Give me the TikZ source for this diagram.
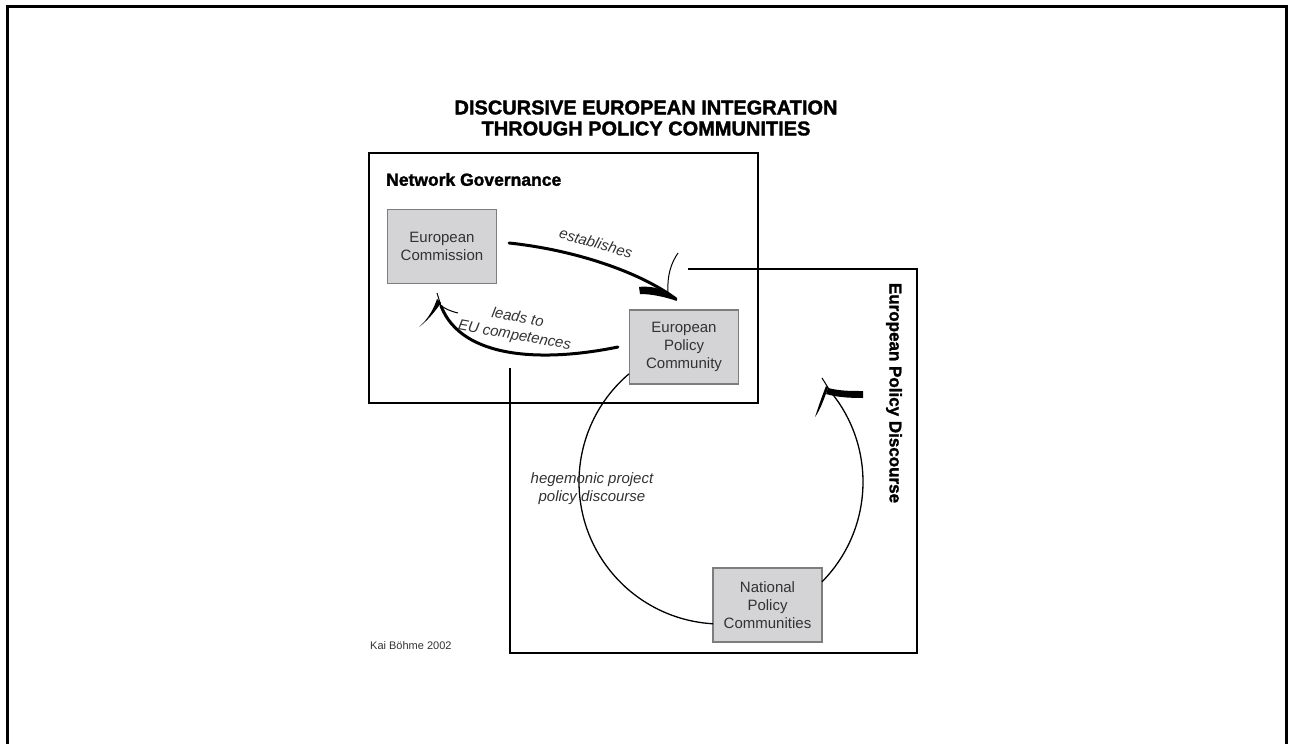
\documentclass[tikz,border=0pt]{standalone}
\usepackage{fontspec}
\setmainfont{Liberation Sans}
\newfontfamily\heavyfont{Liberation Sans Bold}[FakeBold=1.6]
\usetikzlibrary{calc}
\definecolor{boxfill}{RGB}{212,212,214}
\definecolor{boxline}{RGB}{125,125,125}
\definecolor{inktext}{RGB}{50,50,50}

\begin{document}
\begin{tikzpicture}[x=1pt,y=-1pt]

	\tikzset{pol box/.style={draw=boxline, fill=boxfill, line width=1.2pt, inner sep=0pt, minimum width=109pt, minimum height=74pt, align=center, text=inktext, font=\fontsize{15}{18}\selectfont}}
	\tikzset{frame line/.style={line width=2.6pt}}
	\tikzset{flow arrow/.style={line width=3pt, line cap=round}}
	\tikzset{cycle line/.style={line width=1.3pt}}
	\tikzset{verb label/.style={inner sep=0pt, text=inktext, font=\fontsize{15}{18}\selectfont\itshape, align=center}}

	\useasboundingbox (0,0) rectangle (1290,744);

	% outer frame, open at the bottom
	\draw[line width=3pt] (7,744) -- (7,6) -- (1286,6) -- (1286,744);

	% title
	\node[font=\fontsize{20}{21}\selectfont\heavyfont, align=center, inner sep=0pt] (title) at (646,118) {DISCURSIVE EUROPEAN INTEGRATION\\THROUGH POLICY COMMUNITIES};

	% network governance frame
	\draw[frame line] (369,153) rectangle (758,403);
	\node[anchor=west, inner sep=0pt, font=\fontsize{17.5}{20}\selectfont\heavyfont] (netgov) at (386,179.5) {Network Governance};

	% discourse frame, corner cut by the governance frame
	\draw[frame line] (688,269) -- (917,269) -- (917,653) -- (510,653) -- (510,368);
	\node[rotate=-90, inner sep=0pt, font=\fontsize{17}{20}\selectfont\heavyfont] (discourse) at (894,393) {European Policy Discourse};

	% actors
	\node[pol box] (ec) at (442,246.5) {European\\Commission};
	\node[pol box] (epc) at (684,347) {European\\Policy\\Community};
	\node[pol box] (npc) at (767.5,605) {National\\Policy\\Communities};

	% establishes
	\coordinate (estip) at (676,299);
	\draw[flow arrow] ([xshift=12pt,yshift=3.5pt]ec.east) .. controls (575,250) and (640,272) .. (estip);
	\fill (639,287) .. controls (655,285) and (668,291) .. (677,301) .. controls (665,297) and (652,294) .. (640,294) -- cycle;
	\draw[line width=1pt] (668,292) .. controls (667,276) and (671,263) .. (678,253);
	\node[verb label, rotate=-16] (estlabel) at (596,243) {establishes};

	% leads to EU competences
	\coordinate (lttip) at (437,293);
	\coordinate (ltend) at (441,306);
	\draw[flow arrow] ([xshift=-11pt]epc.west) .. controls (545,362) and (462,360) .. (ltend);
	\draw[line width=1pt] (ltend) -- (lttip);
	\fill (437,299) .. controls (433,311) and (427,320) .. (419,327) .. controls (426,322) and (434,313) .. (441,303) -- cycle;
	\draw[line width=1pt] (439,304) .. controls (445,309) and (450,311) .. (458,313);
	\node[verb label, rotate=-10] (ltlabel) at (516,327) {leads to\\EU competences};

	% policy cycle
	\coordinate (hub) at (721,482);
	\draw[cycle line] (hub) ++(229.6:142) arc[start angle=229.6, end angle=93.2, radius=142];
	\draw[cycle line] (hub) ++(44.7:142) arc[start angle=44.7, end angle=-39.5, radius=142] coordinate (cyend);
	\coordinate (cytip) at (822,378);
	\draw[line width=1pt] (cyend) -- (cytip);
	\fill (828,388) .. controls (840,391) and (850,391) .. (863,391) -- (863,398) .. controls (848,398) and (836,397) .. (826,394) -- cycle;
	\fill (826,386) .. controls (822,396) and (819,405) .. (815,417) .. controls (820,410) and (823,402) .. (828,388) -- cycle;
	\node[verb label] (hegemony) at (592,489) {hegemonic project\\policy discourse};

	% credit
	\node[anchor=west, inner sep=0pt, font=\fontsize{11}{13}\selectfont, text=inktext] (credit) at (370,646) {Kai Böhme 2002};

\end{tikzpicture}
\end{document}
